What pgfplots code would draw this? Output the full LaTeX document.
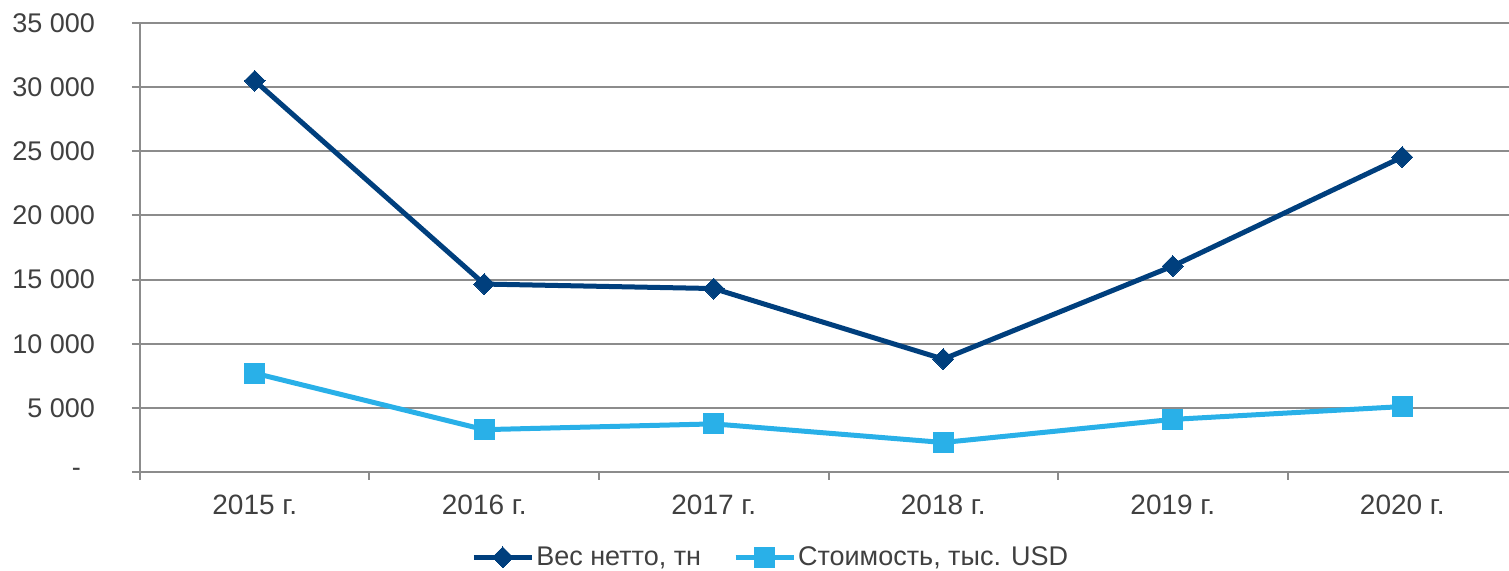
\documentclass[border=0pt]{standalone}
\usepackage{pgfplots}
\pgfplotsset{compat=1.18}
\usepackage{fontspec}
\setmainfont{Liberation Sans}
\definecolor{darkblue}{RGB}{0,63,125}
\definecolor{lightblue}{RGB}{41,176,232}
\definecolor{gridgray}{RGB}{140,140,140}
\definecolor{txt}{RGB}{64,64,64}
\begin{document}
\begin{tikzpicture}
\begin{axis}[
  at={(0,0)}, anchor=south west,
  scale only axis, width=688.5pt, height=224.5pt,
  xmin=-0.5, xmax=5.5, ymin=0, ymax=35000,
  scaled y ticks=false,
  xtick={0,...,5},
  xticklabels={2015 г.,2016 г.,2017 г.,2018 г.,2019 г.,2020 г.},
  minor xtick={-0.5,0.5,1.5,2.5,3.5,4.5},
  ytick={0,5000,...,35000},
  yticklabels={-\kern7pt,5 000,10 000,15 000,20 000,25 000,30 000,35 000},
  axis lines*=left,
  axis line style={gridgray, line width=1pt, -},
  tick align=outside,
  major tick length=4pt, minor tick length=4pt,
  every tick/.style={gridgray, line width=1pt},
  every major x tick/.append style={draw=none},
  ymajorgrids,
  major grid style={gridgray, line width=1pt},
  xticklabel style={font=\fontsize{14}{16}\selectfont, text=txt, yshift=-4pt},
  yticklabel style={font=\fontsize{13.5}{16}\selectfont, text=txt, xshift=-15pt},
  legend style={at={(axis description cs:0.458,-0.19)}, anchor=center, draw=none,
    font=\fontsize{13.5}{16}\selectfont, text=txt, legend columns=-1,
    nodes={inner xsep=1pt},
    /tikz/every even column/.append style={column sep=15pt}},
  legend image code/.code={\draw[#1, mark repeat=2, mark phase=2] plot coordinates {(0pt,0pt) (14.5pt,0pt) (29pt,0pt)};},
]
\addplot[darkblue, line width=2.5pt, mark=square*, mark size=3.7pt, mark options={rotate=45, solid, line width=0pt}]
  coordinates {(0,30500) (1,14650) (2,14300) (3,8800) (4,16050) (5,24550)};
\addlegendentry{Вес нетто, тн}
\addplot[lightblue, line width=2.5pt, mark=square*, mark size=5pt, mark options={solid, line width=0pt}]
  coordinates {(0,7700) (1,3300) (2,3750) (3,2300) (4,4100) (5,5100)};
\addlegendentry{Стоимость, тыс. USD}
\end{axis}
\pgfresetboundingbox
\path[use as bounding box] (-70pt,-49.5pt) rectangle (684.5pt,236pt);
\end{tikzpicture}
\end{document}
